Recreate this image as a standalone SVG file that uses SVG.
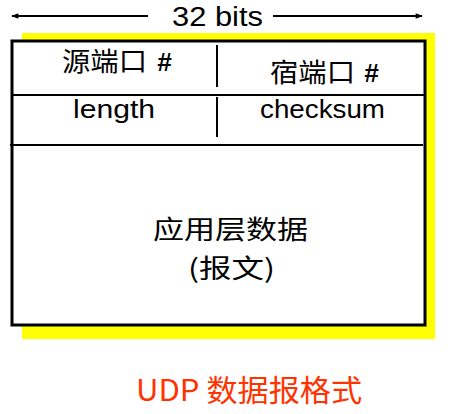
<svg xmlns="http://www.w3.org/2000/svg" width="450" height="414" viewBox="0 0 450 414">
<defs>
<marker id="ah" viewBox="0 0 10 10" refX="9" refY="5" markerWidth="8" markerHeight="7" orient="auto-start-reverse" markerUnits="userSpaceOnUse"><path d="M0,1 L10,5 L0,9 z" fill="#000"/></marker>
<style>
.t{font-family:"Liberation Sans","Noto Sans CJK SC",sans-serif;fill:#000}
.c{font-family:"Noto Sans CJK SC",sans-serif;fill:#000}
.h{font-family:"Liberation Sans",sans-serif;font-weight:bold;font-style:italic;fill:#000}
.ln{stroke:#000;stroke-width:2;fill:none}
</style>
</defs>
<rect x="22" y="33" width="413" height="306" fill="#ffff00"/>
<rect id="box" x="12" y="41" width="413" height="284" fill="#fff" stroke="#000" stroke-width="3"/>
<g id="connectors">
<line class="ln" x1="148" y1="16" x2="12" y2="16" marker-end="url(#ah)"/>
<line class="ln" x1="273" y1="16" x2="422" y2="16" marker-end="url(#ah)"/>
<line class="ln" x1="12" y1="95" x2="424" y2="95"/>
<line class="ln" x1="10" y1="145" x2="423" y2="145"/>
<line class="ln" x1="217" y1="45" x2="217" y2="87"/>
<line class="ln" x1="217" y1="97" x2="217" y2="137"/>
</g>
<g id="bits"><text class="t" x="172" y="26" font-size="27" textLength="91" lengthAdjust="spacingAndGlyphs">32 bits</text></g>
<g id="src"><text class="c" x="62" y="71" font-size="26" textLength="85" lengthAdjust="spacingAndGlyphs">源端口</text><text class="h" x="157" y="71" font-size="26">#</text></g>
<g id="dst"><text class="c" x="270" y="82" font-size="26" textLength="85" lengthAdjust="spacingAndGlyphs">宿端口</text><text class="h" x="364" y="82" font-size="26">#</text></g>
<g id="length"><text class="t" x="73" y="118" font-size="25" textLength="82" lengthAdjust="spacingAndGlyphs">length</text></g>
<g id="checksum"><text class="t" x="260" y="118" font-size="25" textLength="125" lengthAdjust="spacingAndGlyphs">checksum</text></g>
<g id="data"><text class="c" x="153" y="239" font-size="26" textLength="155" lengthAdjust="spacingAndGlyphs">应用层数据</text>
<text class="c" x="188" y="278" font-size="26" textLength="87" lengthAdjust="spacingAndGlyphs">(报文)</text></g>
<g id="caption"><text class="c" x="136" y="401" font-size="30" textLength="226" lengthAdjust="spacingAndGlyphs" style="fill:#ff3300">UDP 数据报格式</text></g>
</svg>
